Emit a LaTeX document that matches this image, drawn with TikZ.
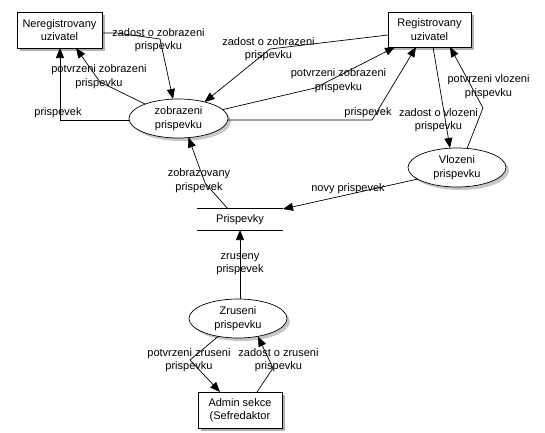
\documentclass[tikz,border=0pt]{standalone}
\usepackage{fontspec}
\setmainfont{Liberation Sans}
\usetikzlibrary{shapes.geometric,arrows.meta,shadows}
\begin{document}
\begin{tikzpicture}[x=1pt,y=-1pt,
  txt/.style={font=\fontsize{11}{13.5}\selectfont, align=center, inner sep=0pt},
  entity/.style={txt, draw, thick, fill=white, minimum width=#1, minimum height=36pt,
     drop shadow={shadow xshift=2.5pt,shadow yshift=-2.5pt,fill=black!30,opacity=1}},
  proc/.style={txt, ellipse, draw, line width=0.7pt, fill=white, minimum width=99pt, minimum height=39pt,
     drop shadow={shadow xshift=3pt,shadow yshift=-3pt,fill=black!22,opacity=1}},
  flow/.style={line width=0.7pt, -{Triangle[length=10pt,width=8pt]}},
  lbl/.style={txt}
]
\useasboundingbox (0,0) rectangle (545,432);

% entities
\node[entity=85pt] (nereg) at (59.5,30) {Neregistrovany\\uzivatel};
\node[entity=83pt, minimum height=35pt] (reg) at (429.5,29.5) {Registrovany\\uzivatel};
\node[entity=84pt] (admin) at (240,410) {Admin sekce\\(Sefredaktor};

% processes
\node[proc] (zob) at (178.5,118.5) {zobrazeni\\prispevku};
\node[proc, minimum width=98pt] (vlo) at (457,167.5) {Vlozeni\\prispevku};
\node[proc, minimum width=98pt] (zru) at (238,318.5) {Zruseni\\prispevku};

% data store
\node[txt, minimum width=86pt, minimum height=21pt] (store) at (240,219.5) {Prispevky};
\draw[line width=0.7pt] (store.north west) -- (store.north east);
\draw[line width=0.7pt] (store.south west) -- (store.south east);

% flows
\draw[flow] ([shift={(42.5,3)}]nereg.center) -- (117,33) -- (160,39) -- ([shift={(-5.5,-19.5)}]zob.center);
\node[lbl] (l1) at (158.5,40) {zadost o zobrazeni\\prispevku};

\draw[flow] ([shift={(-33.5,-14.5)}]zob.center) -- (100,82) -- ([shift={(16.5,18)}]nereg.center);
\node[lbl] (l2) at (99,76.5) {potvrzeni zobrazeni\\prispevku};

\draw[flow] ([shift={(-49.5,1.5)}]zob.center) -- (60,120) -- ([shift={(0.5,18)}]nereg.center);
\node[lbl] (l3) at (58,113) {prispevek};

\draw[flow] ([shift={(-41.5,5.5)}]reg.center) -- (270,49) -- ([shift={(26,-16.5)}]zob.center);
\node[lbl] (l4) at (268.5,49) {zadost o zobrazeni\\prispevku};

\draw[flow] ([shift={(44.5,-9)}]zob.center) -- (315,88) -- ([shift={(-34.5,17.5)}]reg.center);
\node[lbl] (l5) at (338.5,80.5) {potvrzeni zobrazeni\\prispevku};

\draw[flow] ([shift={(49.5,1.5)}]zob.center) -- (372,120) -- ([shift={(-13.5,17.5)}]reg.center);
\node[lbl] (l6) at (368,113) {prispevek};

\draw[flow] ([shift={(3.5,17.5)}]reg.center) -- ([shift={(-7,-19.5)}]vlo.center);
\node[lbl] (l7) at (438.5,120) {zadost o vlozeni\\prispevku};

\draw[flow] ([shift={(10,-19)}]vlo.center) -- (483,108) -- ([shift={(20.5,17.5)}]reg.center);
\node[lbl] (l8) at (488.5,86.5) {potvrzeni vlozeni\\prispevku};

\draw[flow] ([shift={(-39,11.5)}]vlo.center) -- ([shift={(43,-10.5)}]store.center);
\node[lbl] (l9) at (348,189) {novy prispevek};

\draw[flow] ([shift={(-12,-10.5)}]store.center) -- (205,183) -- ([shift={(10,19)}]zob.center);
\node[lbl] (l10) at (199,180.5) {zobrazovany\\prispevek};

\draw[flow] ([shift={(2,-19.5)}]zru.center) -- ([shift={(0,10.5)}]store.center);
\node[lbl] (l11) at (240,264) {zruseny\\prispevek};

\draw[flow] ([shift={(-20,18)}]zru.center) -- (190,360) -- ([shift={(-20,-18)}]admin.center);
\node[lbl] (l12) at (189,360) {potvrzeni zruseni\\prispevku};

\draw[flow] ([shift={(17,-18)}]admin.center) -- (273,368) -- ([shift={(20,18)}]zru.center);
\node[lbl] (l13) at (278.5,360) {zadost o zruseni\\prispevku};
\end{tikzpicture}
\end{document}
